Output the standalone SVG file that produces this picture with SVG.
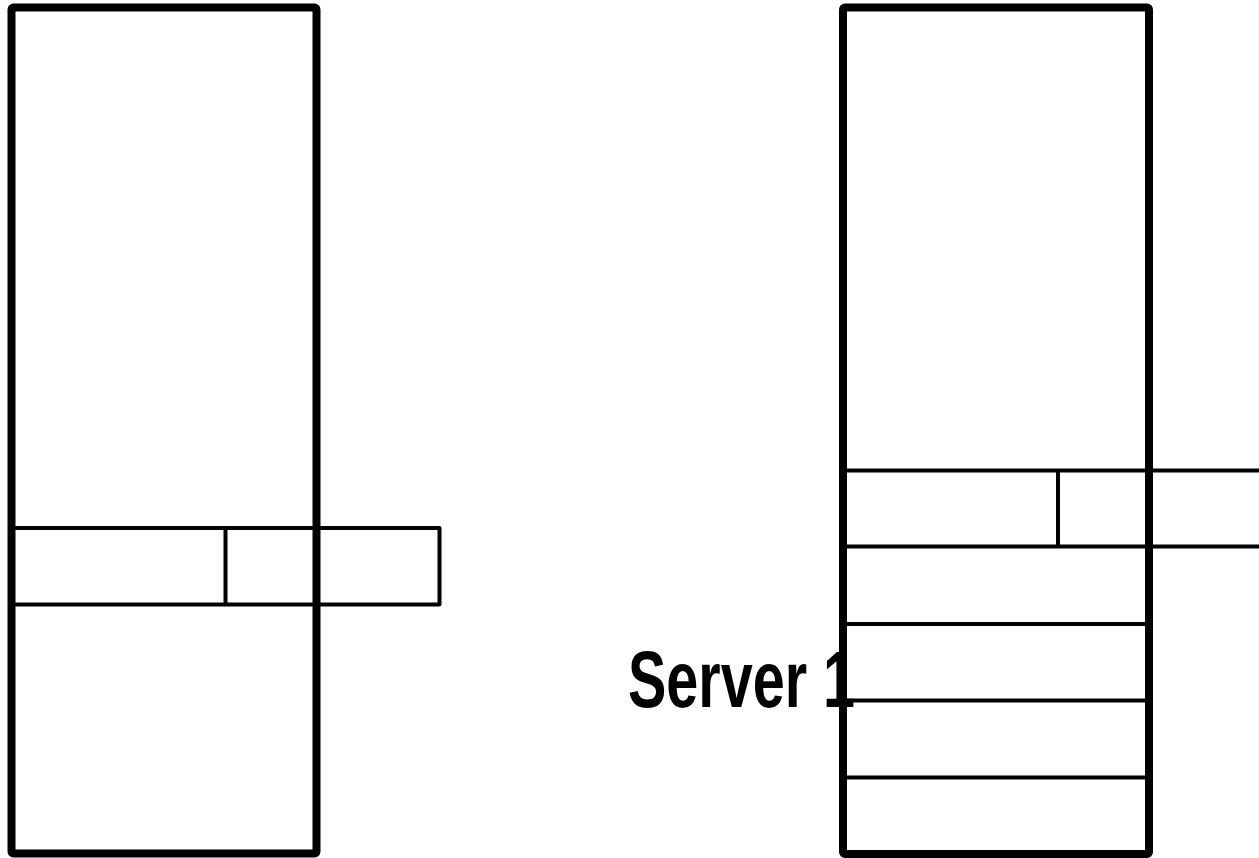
<svg xmlns="http://www.w3.org/2000/svg" width="1259" height="858" viewBox="0 0 1259 858">
  <style>
    .frame { fill: none; stroke: #000; stroke-width: 8; stroke-linejoin: round; }
    .slot { fill: none; stroke: #000; stroke-width: 4; stroke-linejoin: round; }
    .label { font-family: "Liberation Sans", Arial, sans-serif; font-weight: bold; font-size: 80px; fill: #000; }
  </style>
  <rect width="1259" height="858" fill="#fff"/>

  <!-- left rack -->
  <g id="rack-left">
    <rect class="frame" x="11.5" y="7.5" width="305" height="846" rx="2"/>
    <rect class="slot" x="12" y="528" width="427.5" height="76.5"/>
    <line class="slot" x1="225.5" y1="528" x2="225.5" y2="604.5"/>
    <line class="slot" x1="317" y1="528" x2="317" y2="604.5"/>
  </g>

  <!-- right rack -->
  <g id="rack-right">
    <rect class="frame" x="843" y="7.5" width="306" height="846.5" rx="2"/>
    <line class="slot" x1="843" y1="470.5" x2="1262" y2="470.5"/>
    <line class="slot" x1="843" y1="546.5" x2="1262" y2="546.5"/>
    <line class="slot" x1="1058" y1="470.5" x2="1058" y2="546.5"/>
    <line class="slot" x1="1150" y1="470.5" x2="1150" y2="546.5"/>
    <line class="slot" x1="843" y1="624" x2="1149" y2="624"/>
    <line class="slot" x1="843" y1="700.5" x2="1149" y2="700.5"/>
    <line class="slot" x1="843" y1="777.5" x2="1149" y2="777.5"/>
  </g>

  <g id="server-label">
    <text class="label" x="628" y="707" textLength="227" lengthAdjust="spacingAndGlyphs">Server 1</text>
  </g>
</svg>
